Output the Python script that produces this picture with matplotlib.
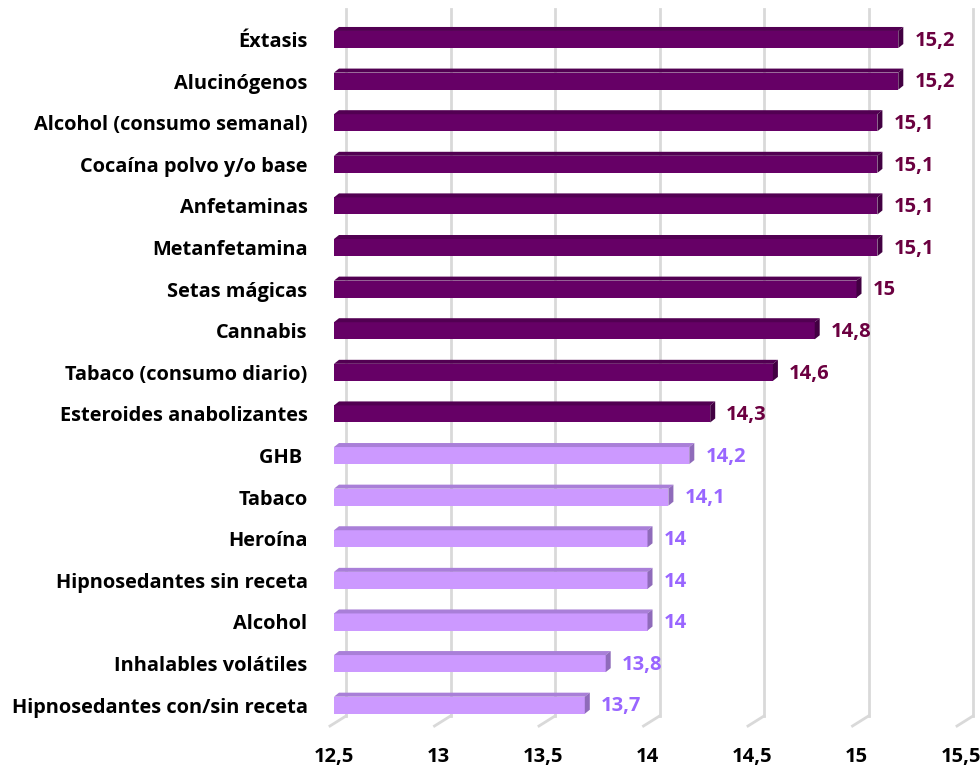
import matplotlib
matplotlib.use("Agg")
import matplotlib.pyplot as plt
from matplotlib.patches import Polygon
from matplotlib.lines import Line2D

plt.rcParams['font.family'] = ['Open Sans', 'DejaVu Sans']

categories = [
    "Éxtasis", "Alucinógenos", "Alcohol (consumo semanal)", "Cocaína polvo y/o base",
    "Anfetaminas", "Metanfetamina", "Setas mágicas", "Cannabis",
    "Tabaco (consumo diario)", "Esteroides anabolizantes", "GHB ", "Tabaco",
    "Heroína", "Hipnosedantes sin receta", "Alcohol", "Inhalables volátiles",
    "Hipnosedantes con/sin receta",
]
values = [15.2, 15.2, 15.1, 15.1, 15.1, 15.1, 15.0, 14.8, 14.6, 14.3,
          14.2, 14.1, 14.0, 14.0, 14.0, 13.8, 13.7]
value_labels = ["15,2", "15,2", "15,1", "15,1", "15,1", "15,1", "15", "14,8", "14,6", "14,3",
                "14,2", "14,1", "14", "14", "14", "13,8", "13,7"]
# first ten rows belong to the dark group, the rest to the light one
dark_rows = 10

xticks = [12.5, 13, 13.5, 14, 14.5, 15, 15.5]
xtick_labels = ["12,5", "13", "13,5", "14", "14,5", "15", "15,5"]
xmin, xmax = 12.5, 15.5

dark = dict(front="#660066", top="#520052", side="#420042", text="#6B0040")
light = dict(front="#CC99FF", top="#A97FD8", side="#8F6BBA", text="#9966FF")

dpi = 100
fig = plt.figure(figsize=(9.8, 7.69), dpi=dpi)
ax = fig.add_axes([334 / 980, 1 - 726 / 769, 627 / 980, (726 - 18.7) / 769])
n = len(categories)
ax.set_xlim(xmin, xmax)
ax.set_ylim(n - 0.5, -0.5)
for s in ax.spines.values():
    s.set_visible(False)

# data units per screen pixel (right / up)
fig.canvas.draw()
(x0p, y0p), (x1p, y1p) = ax.transData.transform([(xmin, -0.5), (xmax, n - 0.5)])
px_x = (xmax - xmin) / (x1p - x0p)
up = n / (y1p - y0p)

# back-wall gridlines plus the floor slant to the front edge
gdx, gdy = 12, 10
ytop, ybot = -0.5, n - 0.5
for v in xticks:
    xb = v + gdx * px_x
    ax.add_line(Line2D([xb, xb], [ytop + gdy * up, ybot + gdy * up],
                       color="#D9D9D9", lw=2, zorder=0, clip_on=False))
    ax.add_line(Line2D([xb, v - 4 * px_x], [ybot + gdy * up, ybot],
                       color="#D9D9D9", lw=2, zorder=0, clip_on=False))

bar_h = 0.41
ddx, ddy = 5, 4  # bar depth in pixels
for i, (v, lab) in enumerate(zip(values, value_labels)):
    c = dark if i < dark_rows else light
    top = i - bar_h / 2
    bot = i + bar_h / 2
    ox = ddx * px_x
    oy = ddy * up
    ax.barh(i, v - xmin, left=xmin, height=bar_h, color=c["front"], zorder=3,
            edgecolor="none")
    ax.add_patch(Polygon([(xmin, top), (v, top), (v + ox, top + oy), (xmin + ox, top + oy)],
                         closed=True, facecolor=c["top"], edgecolor="none", zorder=3))
    ax.add_patch(Polygon([(v, top), (v + ox, top + oy), (v + ox, bot + oy), (v, bot)],
                         closed=True, facecolor=c["side"], edgecolor="none", zorder=3))
    ax.text(v + 16 * px_x, i + 0.03, lab, color=c["text"], fontsize=14.5,
            fontweight="bold", va="center", ha="left", zorder=4)

ax.set_yticks(range(n))
ax.set_yticklabels(categories, fontsize=14.4, fontweight="bold")
ax.set_xticks(xticks)
ax.set_xticklabels(xtick_labels, fontsize=14.5, fontweight="bold")
ax.tick_params(axis="both", length=0)
ax.tick_params(axis="y", pad=19)
ax.tick_params(axis="x", pad=15)

fig.savefig("out.png", dpi=dpi)
